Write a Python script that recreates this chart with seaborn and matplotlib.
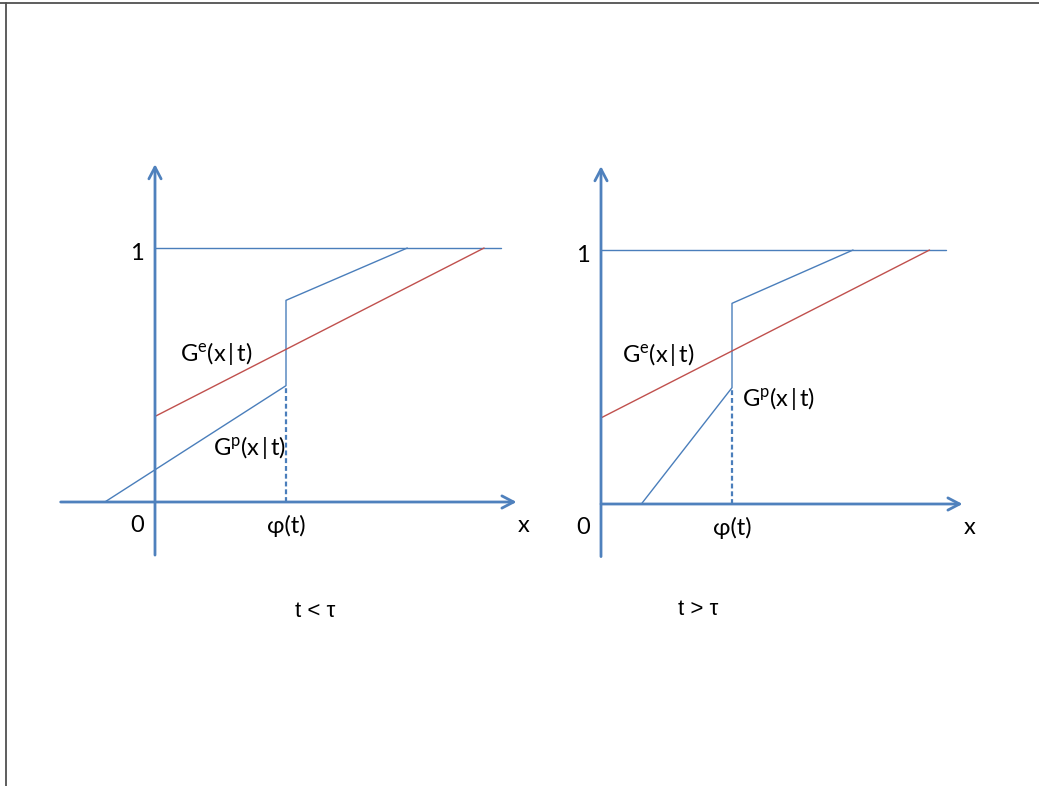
import matplotlib
matplotlib.use("Agg")
import matplotlib.pyplot as plt
from matplotlib.lines import Line2D
import seaborn as sns

sns.set_theme(style="white")
plt.rcParams['font.family'] = ['Lato', 'DejaVu Sans']
plt.rcParams['mathtext.fontset'] = 'custom'
plt.rcParams['mathtext.rm'] = 'Lato'
plt.rcParams['mathtext.it'] = 'Lato'
plt.rcParams['mathtext.default'] = 'regular'

# ---- data (x in units of phi(t), y is probability) ----
panel_names = ["t < τ", "t > τ"]
tick_labels = ["0", "1", "φ(t)", "x"]
curve_labels = ["G$^{e}$(x\u2009|\u2009t)", "G$^{p}$(x\u2009|\u2009t)"]

# left panel (t < tau)
left_one_x = [0.0, 2.64]
left_one_y = [1.0, 1.0]
left_gp_x = [-0.383, 1.0, 1.0, 1.926]
left_gp_y = [0.0, 0.458, 0.794, 1.0]
left_ge_x = [0.0, 0.0, 2.512]
left_ge_y = [0.0, 0.337, 1.0]
left_dash_x = [1.0, 1.0]
left_dash_y = [0.0, 0.458]

# right panel (t > tau)
right_one_x = [0.0, 2.63]
right_one_y = [1.0, 1.0]
right_gp_x = [0.308, 1.0, 1.0, 1.924]
right_gp_y = [0.0, 0.458, 0.79, 1.0]
right_ge_x = [0.0, 0.0, 2.508]
right_ge_y = [0.0, 0.339, 1.0]
right_dash_x = [1.0, 1.0]
right_dash_y = [0.0, 0.458]

BLUE = "#4A7EBB"
AXBLUE = "#4F81BD"
RED = "#C0504D"

W, H = 1039, 786
fig = plt.figure(figsize=(W / 100, H / 100), dpi=100)

PX_X = 131.0   # pixels per x unit
PX_Y = 254.0   # pixels per y unit
XLIM = (-1.2, 3.1)
YLIM = (-0.6, 1.45)


def make_ax(ox, oy):
    left = ox + XLIM[0] * PX_X
    right = ox + XLIM[1] * PX_X
    top = oy - YLIM[1] * PX_Y
    bottom = oy - YLIM[0] * PX_Y
    ax = fig.add_axes([left / W, 1 - bottom / H, (right - left) / W, (bottom - top) / H])
    ax.set_xlim(*XLIM)
    ax.set_ylim(*YLIM)
    ax.axis('off')
    return ax


def draw_panel(ax, one_x, one_y, gp_x, gp_y, ge_x, ge_y, dash_x, dash_y,
               xaxis_start, xaxis_end, yaxis_start, yaxis_end,
               ge_pos, gp_pos, caption, cap_pos):
    arrow = dict(arrowstyle="->,head_length=0.42,head_width=0.22",
                 color=AXBLUE, lw=2.0, mutation_scale=20, shrinkA=0, shrinkB=0)
    ax.annotate("", xy=(xaxis_end, 0), xytext=(xaxis_start, 0), arrowprops=arrow)
    ax.annotate("", xy=(0, yaxis_end), xytext=(0, yaxis_start), arrowprops=arrow)

    sns.lineplot(x=one_x, y=one_y, ax=ax, color=BLUE, lw=1.0, sort=False, estimator=None)
    sns.lineplot(x=gp_x, y=gp_y, ax=ax, color=BLUE, lw=1.0, sort=False, estimator=None)
    sns.lineplot(x=ge_x, y=ge_y, ax=ax, color=RED, lw=1.0, sort=False, estimator=None)
    sns.lineplot(x=dash_x, y=dash_y, ax=ax, color=BLUE, lw=1.6, sort=False,
                 estimator=None, linestyle=(0, (2.2, 1.3)))

    fs = 17
    ax.text(-0.137, 0.978, tick_labels[1], ha='center', va='center', fontsize=fs, color='black')
    ax.text(-0.137, -0.094, tick_labels[0], ha='center', va='center', fontsize=fs, color='black')
    ax.text(1.0, -0.094, tick_labels[2], ha='center', va='center', fontsize=fs, color='black')
    ax.text(2.815, -0.094, tick_labels[3], ha='center', va='center', fontsize=fs, color='black')
    ax.text(ge_pos[0], ge_pos[1], curve_labels[0], ha='left', va='center', fontsize=fs, color='black')
    ax.text(gp_pos[0], gp_pos[1], curve_labels[1], ha='left', va='center', fontsize=fs, color='black')
    ax.text(cap_pos[0], cap_pos[1], caption, ha='center', va='center', fontsize=16,
            color='black', family=['Liberation Sans'])


ax1 = make_ax(155.0, 502.0)
draw_panel(ax1, left_one_x, left_one_y, left_gp_x, left_gp_y, left_ge_x, left_ge_y,
           left_dash_x, left_dash_y,
           xaxis_start=-0.72, xaxis_end=2.76, yaxis_start=-0.209, yaxis_end=1.33,
           ge_pos=(0.19, 0.583), gp_pos=(0.44, 0.214),
           caption=panel_names[0], cap_pos=(1.22, -0.433))

ax2 = make_ax(601.0, 504.0)
draw_panel(ax2, right_one_x, right_one_y, right_gp_x, right_gp_y, right_ge_x, right_ge_y,
           right_dash_x, right_dash_y,
           xaxis_start=0.0, xaxis_end=2.76, yaxis_start=-0.207, yaxis_end=1.33,
           ge_pos=(0.158, 0.59), gp_pos=(1.08, 0.417),
           caption=panel_names[1], cap_pos=(0.74, -0.417))

# slide border (top and left)
fig.add_artist(Line2D([0, 1], [1 - 3.3 / H, 1 - 3.3 / H], transform=fig.transFigure,
                      color='#505050', lw=1.3))
fig.add_artist(Line2D([5.8 / W, 5.8 / W], [0, 1 - 3.3 / H], transform=fig.transFigure,
                      color='#505050', lw=1.3))

fig.savefig("out.png", dpi=100, facecolor='white')
